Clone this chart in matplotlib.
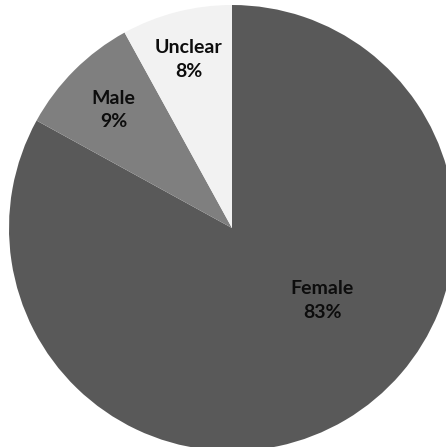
import numpy as np
import matplotlib.pyplot as plt

labels = ["Female", "Male", "Unclear"]
shares = [83, 9, 8]
colors = ["#595959", "#7f7f7f", "#f2f2f2"]

fig = plt.figure(figsize=(4.46, 4.47), dpi=100)
ax = fig.add_axes([0, 0, 1, 1])

R = 223.0
cx, cy = 232.0, 228.0
wedges, _ = ax.pie(shares, colors=colors, startangle=90, counterclock=False,
                   radius=1.0, wedgeprops=dict(linewidth=0))

# label placement: (angle in degrees, distance from centre as fraction of radius)
label_pos = {"Female": (-38.7, 0.52), "Male": (135.0, 0.75), "Unclear": (104.4, 0.78)}
for name, val in zip(labels, shares):
    ang, r = label_pos[name]
    x = r * np.cos(np.radians(ang))
    y = r * np.sin(np.radians(ang))
    ax.text(x, y, f"{name}\n{val}%", ha="center", va="center",
            fontsize=14, fontweight="bold", family="Lato", color="#0d0d0d",
            linespacing=1.45)

ax.set_xlim(-cx / R, (446 - cx) / R)
ax.set_ylim(-(447 - cy) / R, cy / R)
ax.set_aspect("equal")
ax.axis("off")

fig.savefig("out.png", dpi=100)
